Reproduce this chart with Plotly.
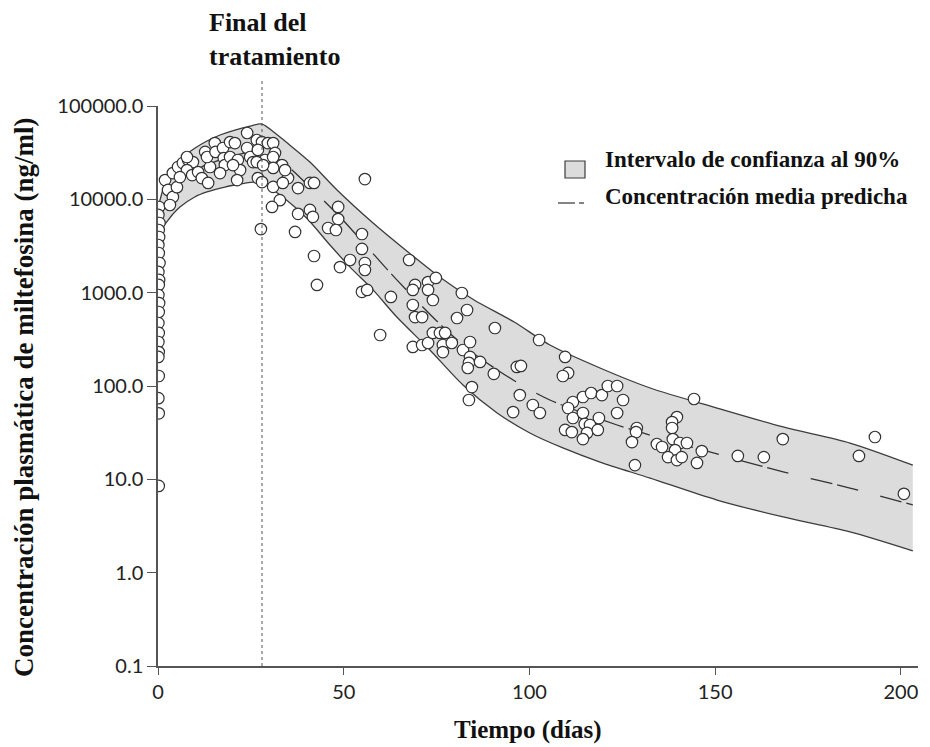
import plotly.graph_objects as go

# ---------------- data ----------------
# observed concentrations (ng/ml) vs time (days)
day_start = [0.3, 0.1, 0.4, 0.2, 0.3, 0.1, 0.2, 0.4, 0.1, 0.3, 0.2, 0.1,
             0.3, 0.2, 0.1, 0.2, 0.1, 0.2, 0.1, 0.2, 0.1, 0.2, 0.2]
conc_start = [8280, 6800, 5580, 4690, 3950, 3240, 2660, 2080, 1670, 1370, 1210, 944,
              774, 621, 473, 370, 296, 231, 205, 128, 74, 51, 8.5]

day_treat = [1.9, 2.7, 4.0, 3.2, 5.1, 4.0, 5.4, 6.7, 8.1, 9.4, 7.8, 9.2, 10.8, 11.8,
             14.0, 13.5, 12.7, 13.2, 15.3, 15.5, 17.5, 17.7, 18.0, 16.7, 19.4, 20.7,
             19.4, 21.5, 22.1, 21.3, 20.2, 24.0, 24.0, 24.8, 25.6, 26.6, 7.8, 5.9,
             28.0, 29.6, 31.0, 26.9, 31.5, 28.8, 31.0, 33.4, 31.0, 26.6, 28.3, 26.9,
             28.0, 31.0, 35.0, 33.6, 34.2, 32.8, 30.7, 27.7]
conc_treat = [16100, 12600, 10600, 8700, 13500, 19100, 22200, 24500, 26400, 25100,
              20600, 18200, 19600, 16900, 22200, 15000, 32200, 28400, 40100, 32200,
              35500, 27700, 23300, 19100, 41100, 40100, 28400, 26400, 20600, 16100,
              23300, 51400, 35500, 28400, 25100, 43200, 28400, 17300, 41100, 40100,
              40100, 33800, 31400, 26400, 28400, 23300, 21700, 25100, 23300, 16900,
              15300, 13600, 16900, 15000, 20600, 9800, 8300, 4800]

day_post = [36.9, 37.7, 40.9, 42.0, 37.7, 40.9, 41.7, 48.5, 48.5, 45.8, 47.9, 42.0,
            42.8, 55.7, 54.9, 54.9, 51.7, 49.0, 55.7, 55.7, 54.9, 56.3, 62.7, 67.6,
            59.8, 69.2, 68.6, 72.7, 74.8, 72.7, 74.0, 68.6, 69.2, 71.1, 68.6, 71.1,
            72.7, 74.0, 75.9, 77.3, 76.7, 76.7, 79.1, 81.8, 83.2, 80.5, 90.7, 82.1,
            84.0, 84.0, 83.7, 83.4, 86.7, 90.4, 84.5, 83.7, 96.6, 97.7, 97.4, 95.6,
            100.9, 102.8, 102.6, 109.6, 110.4, 109.0, 111.7, 110.4, 111.7, 109.6,
            111.4, 114.4, 116.6, 119.5, 121.1, 123.6, 125.2, 123.6, 118.7, 114.4,
            114.9, 116.3, 115.5, 118.4, 114.4, 128.9, 128.7, 127.6, 128.4, 144.3,
            139.7, 138.4, 138.4, 138.6, 134.3, 135.7, 140.5, 142.4, 139.2, 137.3,
            139.7, 141.0, 146.4, 145.1, 156.1, 163.1, 168.2, 188.7, 193.0, 200.8]
conc_post = [4470, 13200, 15000, 15000, 7000, 7700, 6500, 8300, 6150, 4930, 4690, 2470,
             1210, 16500, 4250, 2940, 2240, 1880, 2080, 1750, 1020, 1070, 900, 2240,
             352, 1210, 1070, 1300, 1440, 1070, 834, 738, 548, 548, 262, 275,
             289, 370, 370, 370, 275, 231, 289, 992, 652, 535, 418, 243,
             296, 205, 177, 156, 181, 135, 97.5, 70.8, 160, 164, 80, 52.6,
             62.6, 51.4, 311, 205, 138, 128, 67.4, 58.1, 45.4, 33.8,
             32.1, 76.2, 84.1, 80, 100, 100, 70.8, 51.4, 45.4, 51.4,
             39.2, 38.2, 31.4, 33.8, 27.0, 35.5, 32.1, 25.1, 14.2, 72.6,
             46.5, 41.1, 35.5, 27.0, 23.9, 22.2, 24.5, 24.5, 20.6, 17.3,
             16.1, 17.3, 20.1, 15.0, 17.8, 17.3, 27.0, 17.8, 28.4, 7.0]

# 90% confidence band
band_up_day = [0.3, 1.3, 2.7, 4.6, 6.7, 10.0, 13.2, 16.7, 20.7, 24.8, 28.0, 31.5, 34.5,
               40.9, 48.2, 57.9, 67.3, 76.2, 85.1, 95.9, 105.5, 119.0, 132.5, 150.5,
               168.3, 186.3, 203.2]
band_up = [9000, 12600, 17800, 23300, 28400, 35500, 42200, 48900, 55300, 61000, 64100,
           51400, 41100, 25100, 12600, 5580, 2730, 1436, 834, 485, 275, 156, 95.2,
           58.1, 36.4, 24.5, 14.2]
band_lo_day = [0.3, 1.9, 3.8, 5.9, 9.9, 13.2, 18.0, 22.0, 28.0, 30.2, 33.6, 40.0, 46.3,
               51.7, 57.9, 64.3, 73.2, 82.1, 91.3, 100.1, 109.0, 119.0, 132.5, 150.5,
               168.3, 186.3, 203.2]
band_lo = [4900, 5440, 6800, 8280, 10600, 11990, 13550, 14600, 15300, 13200, 10600,
           6310, 3240, 1880, 1070, 548, 243, 102.5, 51.4, 31.4, 21.7, 15.3, 10.3,
           6.0, 3.95, 2.73, 1.71]

# mean predicted concentration
mean_day = [0.3, 1.9, 4.6, 10.0, 16.7, 23.4, 28.0, 34.5, 40.9, 49.0, 56.3, 64.3, 76.7,
            84.8, 95.6, 105.5, 123.6, 137.0, 150.5, 168.3, 186.3, 203.2]
mean_conc = [5700, 8700, 13200, 20600, 26400, 31400, 33800, 23300, 13550, 6470, 3084,
             1370, 429, 226, 115.9, 70.8, 38.2, 26.4, 18.7, 12.0, 8.07, 5.31]

end_treatment_day = 28
y_tickvals = [0.1, 1, 10, 100, 1000, 10000, 100000]
y_ticktext = ["0.1", "1.0", "10.0", "100.0", "1000.0", "10000.0", "100000.0"]
x_tickvals = [0, 50, 100, 150, 200]

# ---------------- figure ----------------
SERIF = "Liberation Serif"
SANS = "Lato"
BAND_FILL = "#dcdcdd"
LINE_C = "#3c3c3c"

fig = go.Figure()
fig.add_trace(go.Scatter(x=band_lo_day, y=band_lo, mode="lines",
                         line=dict(color=LINE_C, width=1.3, shape="spline", smoothing=0.8),
                         showlegend=False, hoverinfo="skip"))
fig.add_trace(go.Scatter(x=band_up_day, y=band_up, mode="lines", fill="tonexty",
                         fillcolor=BAND_FILL,
                         line=dict(color=LINE_C, width=1.3, shape="spline", smoothing=0.8),
                         showlegend=False, hoverinfo="skip"))
fig.add_trace(go.Scatter(x=mean_day, y=mean_conc, mode="lines",
                         line=dict(color="#333333", width=1.3, dash="22px,5px,22px,23px",
                                   shape="spline", smoothing=0.8),
                         showlegend=False))
all_day = day_start + day_treat + day_post
all_conc = conc_start + conc_treat + conc_post
fig.add_trace(go.Scatter(x=all_day, y=all_conc, mode="markers",
                         marker=dict(size=11.5, color="white",
                                     line=dict(color="#333333", width=1.2)),
                         showlegend=False))

# helpers: positions relative to the plot area (plot area is 760 x 560 px)
def px_x(p):
    return (p - 158) / 760

def px_y(p):
    return (666 - p) / 560

# end-of-treatment marker
fig.add_shape(type="line", x0=end_treatment_day, x1=end_treatment_day, xref="x",
              y0=0, y1=1.05, yref="paper",
              line=dict(color="#555555", width=1, dash="dot"))
fig.add_annotation(text="<b>Final del<br>tratamiento</b>", xref="paper", yref="paper",
                   x=px_x(207), y=px_y(6), xanchor="left", yanchor="top",
                   align="left", showarrow=False,
                   font=dict(family=SERIF, size=26, color="#111111"))

# legend (drawn manually)
fig.add_shape(type="rect", xref="paper", yref="paper",
              x0=px_x(565), x1=px_x(585), y0=px_y(178), y1=px_y(161),
              fillcolor=BAND_FILL, line=dict(color=LINE_C, width=1.2))
fig.add_annotation(text="<b>Intervalo de confianza al 90%</b>", xref="paper", yref="paper",
                   x=px_x(603), y=px_y(159), xanchor="left", yanchor="middle",
                   showarrow=False, font=dict(family=SERIF, size=23, color="#111111"))
fig.add_shape(type="line", xref="paper", yref="paper",
              x0=px_x(558), x1=px_x(575), y0=px_y(203), y1=px_y(203),
              line=dict(color="#333333", width=1.2))
fig.add_shape(type="line", xref="paper", yref="paper",
              x0=px_x(579), x1=px_x(584), y0=px_y(203), y1=px_y(203),
              line=dict(color="#333333", width=1.2))
fig.add_annotation(text="<b>Concentración media predicha</b>", xref="paper", yref="paper",
                   x=px_x(603), y=px_y(196), xanchor="left", yanchor="middle",
                   showarrow=False, font=dict(family=SERIF, size=23, color="#111111"))

# axis titles
fig.add_annotation(text="<b>Tiempo (días)</b>", xref="paper", yref="paper",
                   x=px_x(527), y=px_y(730), xanchor="center", yanchor="middle",
                   showarrow=False, font=dict(family=SERIF, size=25, color="#111111"))
fig.add_annotation(text="<b>Concentración plasmática de miltefosina (ng/ml)</b>",
                   xref="paper", yref="paper", x=px_x(24), y=px_y(398),
                   xanchor="center", yanchor="middle", textangle=-90,
                   showarrow=False, font=dict(family=SERIF, size=27, color="#111111"))

fig.update_xaxes(range=[0, 204.6], tickvals=x_tickvals, showline=True, linecolor="#555555",
                 linewidth=1.5, ticks="outside", ticklen=7, tickcolor="#555555",
                 tickfont=dict(family=SANS, size=20, color="#222222"),
                 showgrid=False, zeroline=False)
fig.update_yaxes(type="log", range=[-1, 5], tickvals=y_tickvals, ticktext=y_ticktext,
                 showline=True, linecolor="#555555", linewidth=1.5, ticks="outside",
                 ticklen=9, tickcolor="#555555",
                 tickfont=dict(family=SANS, size=20, color="#222222"),
                 showgrid=False, zeroline=False)
# page body has an 8px margin, so the figure is 8px smaller and offset accordingly
fig.update_layout(width=922, height=739, plot_bgcolor="white", paper_bgcolor="white",
                  margin=dict(l=150, r=12, t=98, b=81, autoexpand=False), showlegend=False)

fig.write_html("out.html")
